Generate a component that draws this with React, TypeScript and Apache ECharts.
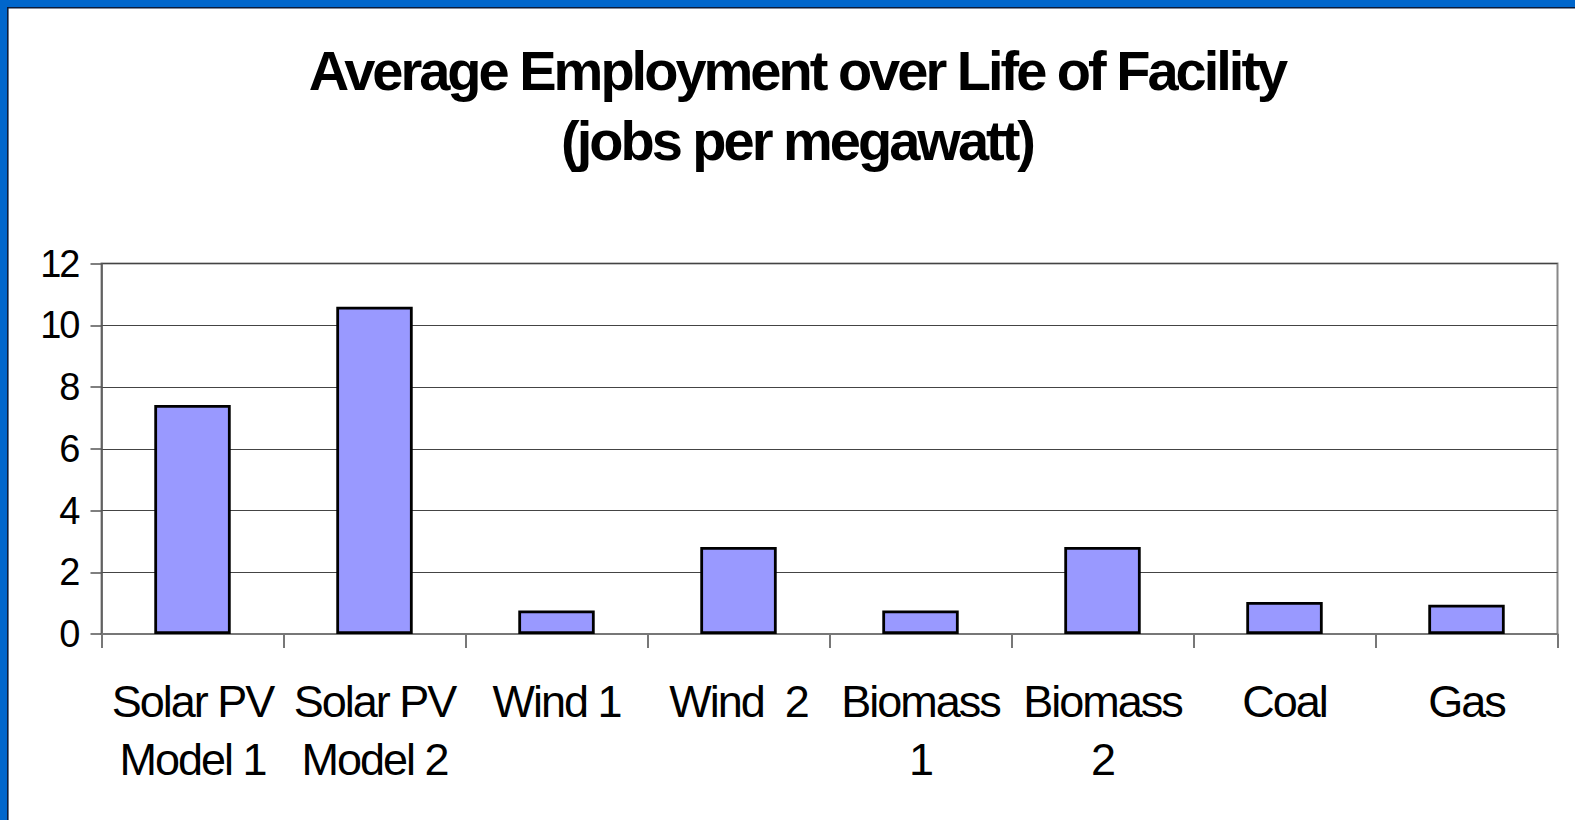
import React, { useEffect, useRef } from "react";
import * as echarts from "echarts";

const categories = [
  "Solar PV\nModel 1",
  "Solar PV\nModel 2",
  "Wind 1",
  "Wind  2",
  "Biomass\n1",
  "Biomass\n2",
  "Coal",
  "Gas",
];
const jobsPerMW = [7.42, 10.6, 0.76, 2.82, 0.76, 2.82, 1.04, 0.95];
const titleLines = ["Average Employment over Life of Facility", "(jobs per megawatt)"];
const yMin = 0;
const yMax = 12;
const yStep = 2;

const FONT = "'Liberation Sans', Arial, sans-serif";

export default function App() {
  const ref = useRef<HTMLDivElement>(null);
  useEffect(() => {
    if (!ref.current) return;
    const chart = echarts.init(ref.current, undefined, { renderer: "svg" });
    chart.setOption({
      animation: false,
      backgroundColor: "#ffffff",
      textStyle: { fontFamily: FONT },
      graphic: [
        { type: "rect", shape: { x: 0, y: 0, width: 1575, height: 7 }, style: { fill: "#0066CC" }, silent: true },
        { type: "rect", shape: { x: 0, y: 0, width: 7, height: 820 }, style: { fill: "#0066CC" }, silent: true },
        { type: "rect", shape: { x: 7, y: 7, width: 1568, height: 1.6 }, style: { fill: "#0B1B3A" }, silent: true },
        { type: "rect", shape: { x: 7, y: 7, width: 1.6, height: 813 }, style: { fill: "#0B1B3A" }, silent: true },
        {
          type: "text",
          x: 797,
          y: 70,
          style: {
            text: titleLines[0],
            fontFamily: FONT,
            fontWeight: "bold",
            fontSize: 56,
            fill: "#000",
            textAlign: "center",
            textVerticalAlign: "middle",
          },
        },
        {
          type: "text",
          x: 797,
          y: 140,
          style: {
            text: titleLines[1],
            fontFamily: FONT,
            fontWeight: "bold",
            fontSize: 56,
            fill: "#000",
            textAlign: "center",
            textVerticalAlign: "middle",
          },
        },
      ],
      grid: {
        left: 101.5,
        right: 17.5,
        top: 263.5,
        bottom: 186,
        show: true,
        borderColor: "#888888",
        borderWidth: 2,
        backgroundColor: "transparent",
      },
      xAxis: {
        type: "category",
        data: categories,
        axisLine: { show: true, lineStyle: { color: "#777777", width: 2 } },
        axisTick: { show: true, alignWithLabel: false, length: 14, lineStyle: { color: "#777777", width: 2 } },
        axisLabel: {
          color: "#000",
          fontSize: 45,
          fontFamily: FONT,
          lineHeight: 58,
          margin: 38,
          interval: 0,
        },
        splitLine: { show: false },
      },
      yAxis: {
        type: "value",
        min: yMin,
        max: yMax,
        interval: yStep,
        axisLine: { show: true, lineStyle: { color: "#555555", width: 1.5 } },
        axisTick: { show: true, length: 11, lineStyle: { color: "#555555", width: 1.5 } },
        axisLabel: { color: "#000", fontSize: 38, fontFamily: FONT, margin: 23 },
        splitLine: { show: true, lineStyle: { color: "#444444", width: 1.2 } },
      },
      series: [
        {
          type: "bar",
          data: jobsPerMW,
          barCategoryGap: "58%",
          itemStyle: { color: "#9999FF", borderColor: "#000000", borderWidth: 2.8 },
        },
      ],
    });
    return () => chart.dispose();
  }, []);
  return (
    <div style={{ position: "fixed", left: 0, top: 0, width: 1575, height: 820, background: "#fff" }}>
      <style>{`
        .chartbox svg text { letter-spacing: -2px; }
        .chartbox svg text[style*="bold"] { letter-spacing: -3px; }
      `}</style>
      <div className="chartbox" ref={ref} style={{ width: 1575, height: 820 }} />
    </div>
  );
}
